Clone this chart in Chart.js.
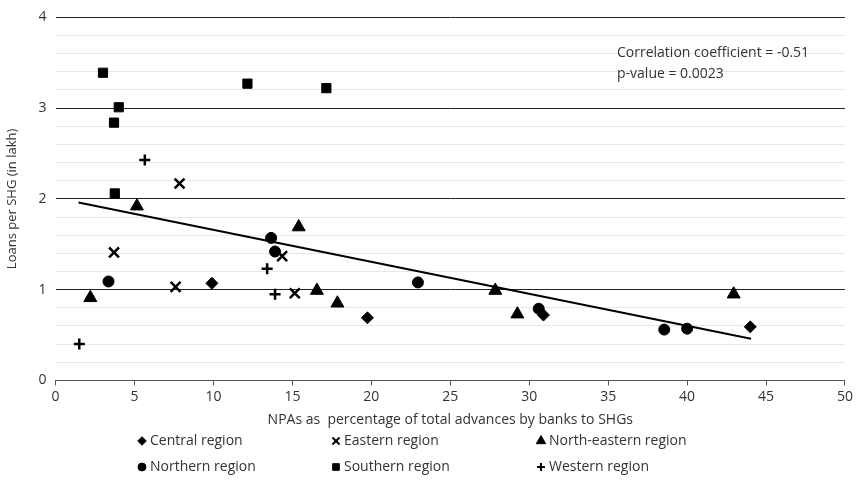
<!DOCTYPE html>
<html>
<head>
<meta charset="utf-8">
<script src="https://cdn.jsdelivr.net/npm/chart.js@4"></script>
<style>
  html, body { margin: 0; padding: 0; background: #fff; }
  #wrap { width: 856px; height: 480px; }
</style>
</head>
<body>
<div id="wrap"><canvas id="c"></canvas></div>
<script>
// NPAs (%) and loans per SHG (lakh)
const centralX = [9.9, 19.75, 30.9, 44.0];
const centralY = [1.07, 0.69, 0.72, 0.59];
const easternX = [3.7, 7.6, 7.85, 14.35, 15.15];
const easternY = [1.41, 1.03, 2.17, 1.37, 0.96];
const northEastX = [2.2, 5.15, 15.4, 16.55, 17.85, 27.85, 29.25, 42.95];
const northEastY = [0.91, 1.92, 1.69, 0.99, 0.85, 0.99, 0.73, 0.95];
const northernX = [3.35, 13.65, 13.9, 22.95, 30.6, 38.55, 40.0];
const northernY = [1.09, 1.57, 1.42, 1.08, 0.79, 0.56, 0.57];
const southernX = [3.0, 3.7, 3.75, 4.0, 12.15, 17.15];
const southernY = [3.39, 2.84, 2.06, 3.01, 3.27, 3.22];
const westernX = [1.5, 5.65, 13.4, 13.9];
const westernY = [0.40, 2.43, 1.23, 0.95];

const trendX = [1.45, 44.05];
const trendY = [1.96, 0.46];

const xTicks = [0, 5, 10, 15, 20, 25, 30, 35, 40, 45, 50];
const yTicks = [0, 1, 2, 3, 4];
const yMinorStep = 0.2;

const regions = [
  { label: 'Central region', xs: centralX, ys: centralY, style: 'rectRot', r: 6, bw: 1 },
  { label: 'Eastern region', xs: easternX, ys: easternY, style: 'crossRot', r: 7, bw: 2.5 },
  { label: 'North-eastern region', xs: northEastX, ys: northEastY, style: 'triangle', r: 7.5, bw: 1 },
  { label: 'Northern region', xs: northernX, ys: northernY, style: 'circle', r: 5.5, bw: 1 },
  { label: 'Southern region', xs: southernX, ys: southernY, style: 'rect', r: 6.5, bw: 1 },
  { label: 'Western region', xs: westernX, ys: westernY, style: 'cross', r: 5.5, bw: 2.5 }
];

const FONT = '"Open Sans", sans-serif';
const TXT = '#333';

const datasets = regions.map(g => ({
  type: 'scatter',
  label: g.label,
  data: g.xs.map((x, i) => ({ x: x, y: g.ys[i] })),
  pointStyle: g.style,
  pointRadius: g.r,
  pointHoverRadius: g.r,
  pointBorderWidth: g.bw,
  backgroundColor: '#000',
  borderColor: '#000'
}));

datasets.push({
  type: 'line',
  label: 'trend',
  data: trendX.map((x, i) => ({ x: x, y: trendY[i] })),
  borderColor: '#000',
  borderWidth: 2,
  pointRadius: 0,
  fill: false
});

const extras = {
  id: 'extras',
  afterDraw(chart) {
    const ctx = chart.ctx;
    ctx.save();
    ctx.fillStyle = TXT;
    ctx.font = '14px ' + FONT;
    ctx.textBaseline = 'middle';
    ctx.textAlign = 'left';
    ctx.fillText('Correlation coefficient = -0.51', 617, 53);
    ctx.fillText('p-value = 0.0023', 617, 74);

    // legend, 3 columns x 2 rows
    const cols = [142, 336, 541];
    const rows = [441, 467];
    regions.forEach((g, i) => {
      const cx = cols[i % 3], cy = rows[Math.floor(i / 3)];
      ctx.fillStyle = '#000';
      ctx.strokeStyle = '#000';
      ctx.lineWidth = g.bw > 1 ? 2 : 1;
      Chart.helpers.drawPoint(ctx, { pointStyle: g.style, radius: g.r * 0.72, borderWidth: ctx.lineWidth }, cx, cy);
      ctx.fillStyle = TXT;
      ctx.fillText(g.label, cx + 8, cy);
    });
    ctx.restore();
  }
};

new Chart(document.getElementById('c'), {
  data: { datasets: datasets },
  options: {
    responsive: true,
    maintainAspectRatio: false,
    animation: false,
    layout: { padding: { top: 2, right: 11, bottom: 52, left: 4 } },
    plugins: {
      legend: { display: false },
      tooltip: { enabled: false }
    },
    scales: {
      x: {
        type: 'linear',
        min: 0, max: 50,
        afterBuildTicks: axis => { axis.ticks = xTicks.map(v => ({ value: v })); },
        grid: { drawOnChartArea: false, drawTicks: true, tickLength: 5, color: '#555' },
        border: { color: '#555', width: 1 },
        ticks: { color: TXT, font: { family: FONT, size: 14 }, padding: 3, maxRotation: 0, autoSkip: false },
        title: { display: true, text: 'NPAs as  percentage of total advances by banks to SHGs', color: TXT, font: { family: FONT, size: 14 }, padding: { top: 3, bottom: 0 } }
      },
      y: {
        type: 'linear',
        min: 0, max: 4,
        afterBuildTicks: axis => {
          const t = [];
          const top = yTicks[yTicks.length - 1];
          for (let i = 0; i * yMinorStep <= top + 1e-9; i++) t.push({ value: Math.round(i * yMinorStep * 100) / 100 });
          axis.ticks = t;
        },
        ticks: {
          autoSkip: false,
          color: TXT,
          font: { family: FONT, size: 14 },
          padding: 9,
          callback: v => yTicks.includes(v) ? String(v) : ''
        },
        grid: {
          drawTicks: false,
          color: c => yTicks.includes(c.tick.value) ? '#222' : '#e8e8e8',
          lineWidth: 1
        },
        border: { display: false },
        title: { display: true, text: 'Loans per SHG (in lakh)', color: TXT, font: { family: FONT, size: 13 }, padding: { top: 0, bottom: 10 } }
      }
    }
  },
  plugins: [extras]
});
</script>
</body>
</html>
